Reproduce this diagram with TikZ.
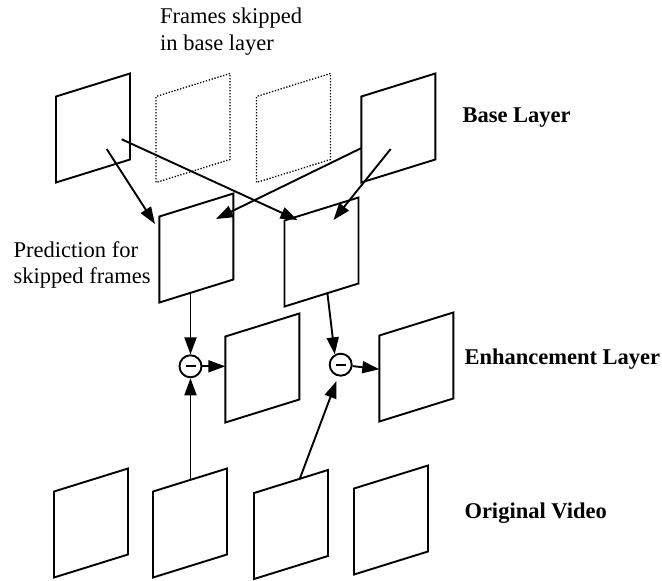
\documentclass[tikz,border=0pt]{standalone}
\usepackage{fontspec}
\setmainfont{Liberation Serif}
\usetikzlibrary{arrows.meta,calc}

\begin{document}
\begin{tikzpicture}[x=1pt,y=-1pt,
  vframe/.style={draw, line width=1.9pt, fill=white, minimum width=74pt,
    minimum height=86pt, inner sep=0pt, outer sep=0pt, yslant=0.311},
  skipframe/.style={vframe, line width=1.3pt, dash pattern=on 1.3pt off 1.7pt},
  diffnode/.style={circle, draw, line width=1.9pt, fill=white,
    minimum size=22pt, inner sep=0pt},
  arr/.style={line width=1.9pt, -{Triangle[length=17pt,width=12pt]}},
  lbl/.style={font=\fontsize{22.5}{26.5}\selectfont, inner sep=0pt,
    align=left, anchor=north west},
  layerlbl/.style={font=\fontsize{22.5}{27}\selectfont\bfseries,
    inner sep=0pt, anchor=base west}
]
\useasboundingbox (0,0) rectangle (662,581);

% base layer (two frames skipped)
\node[vframe]    (B1) at (93,128)    {};
\node[skipframe] (S1) at (193,128)   {};
\node[skipframe] (S2) at (293.5,128) {};
\node[vframe]    (B4) at (398.3,128) {};

% predictions for the skipped frames
\node[vframe] (P1) at (196.4,248) {};
\node[vframe] (P2) at (321.5,252) {};

% enhancement layer
\node[vframe] (E1) at (262.3,368) {};
\node[vframe] (E2) at (416.3,367) {};

% original video
\node[vframe] (O1) at (91,523)    {};
\node[vframe] (O2) at (190,523)   {};
\node[vframe] (O3) at (291,524.5) {};
\node[vframe] (O4) at (391,520)   {};

% difference nodes
\node[diffnode] (C1) at (190.5,366.3) {\rule[-1.1pt]{10pt}{2.2pt}};
\node[diffnode] (C2) at (340.7,364.7) {\rule[-1.1pt]{10pt}{2.2pt}};

% arrow end points
\coordinate (b1a) at (106.7,149);
\coordinate (b1b) at (121.7,139.3);
\coordinate (b4a) at ($(B4.north west)!0.6!(B4.south west)$);
\coordinate (b4b) at (390.7,149);
\coordinate (p1in) at (155,224);
\coordinate (p1ct) at (216,219);
\coordinate (p2in) at (297.5,220);
\coordinate (p2ct) at (333.5,220);
\coordinate (p1out) at (190.5,292.6);
\coordinate (p2out) at (327.3,292.3);
\coordinate (o2out) at (190.5,480.2);
\coordinate (o3out) at (299.3,480);

% interpolation of skipped frames
\draw[arr] (b1a) -- (p1in);
\draw[arr] (b1b) -- (p2in);
\draw[arr] (b4a) -- (p1ct);
\draw[arr] (b4b) -- (p2ct);

% residual computation
\draw[arr] (p1out) -- (C1);
\draw[arr] (o2out) -- (C1);
\draw[arr] (C1) -- (C1 -| E1.west);
\draw[arr] (p2out) -- (C2.120);
\draw[arr, shorten >=5pt] (o3out) -- (C2.258);
\draw[arr] (C2) -- ($(C2 -| E2.west)+(0,4.5)$);

% labels
\node[lbl] (skiplbl) at (160,8) {Frames skipped\\in base layer};
\node[lbl] (predlbl) at (13.5,241.3) {Prediction for\\skipped frames};
\node[layerlbl] (baselbl) at (462.3,122.7) {Base Layer};
\node[layerlbl] (enhlbl)  at (464.3,364.3) {Enhancement Layer};
\node[layerlbl] (origlbl) at (464.3,518.3) {Original Video};
\end{tikzpicture}
\end{document}
